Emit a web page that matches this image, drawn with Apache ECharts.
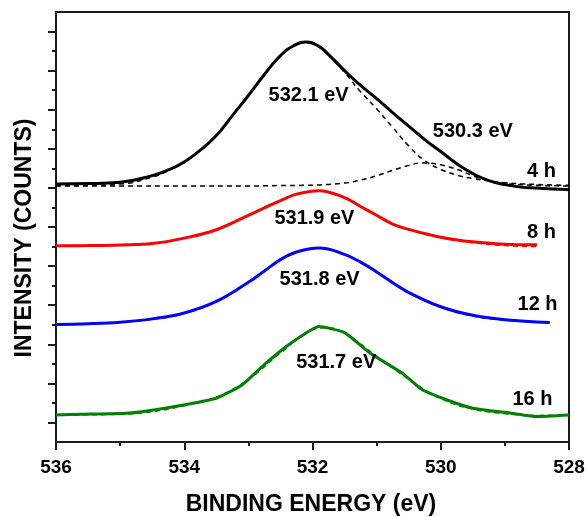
<!DOCTYPE html>
<html><head><meta charset="utf-8">
<script src="https://cdn.jsdelivr.net/npm/echarts@6/dist/echarts.min.js"></script>
<style>html,body{margin:0;padding:0;background:#fff}#c{width:588px;height:517px}</style>
</head><body><div id="c"></div>
<script>
// ---- data (binding energy in eV, intensity in arbitrary offset units) ----
const E4  = [536, 535.5, 535, 534.5, 534.25, 534, 533.75, 533.5, 533.25, 533, 532.75, 532.5, 532.3, 532.1, 531.9, 531.75, 531.5, 531.25, 531, 530.75, 530.5, 530.25, 530, 529.75, 529.5, 529.25, 529, 528.75, 528.5, 528.25, 528];
const I4  = [13.20, 13.22, 13.29, 13.63, 13.92, 14.33, 14.93, 15.68, 16.70, 17.73, 18.80, 19.77, 20.26, 20.46, 20.24, 19.82, 19.00, 18.24, 17.57, 16.85, 16.16, 15.47, 14.86, 14.24, 13.73, 13.37, 13.17, 13.04, 12.99, 12.94, 12.91];
const I4c1 = [13.12, 13.13, 13.20, 13.55, 13.88, 14.33, 14.93, 15.68, 16.70, 17.73, 18.80, 19.77, 20.26, 20.46, 20.24, 19.80, 18.90, 17.92, 17.05, 16.10, 15.15, 14.40, 13.95, 13.66, 13.48, 13.36, 13.27, 13.21, 13.18, 13.15, 13.13];
const E4c2 = [536, 535, 534, 533, 532.5, 532, 531.75, 531.5, 531.25, 531, 530.75, 530.5, 530.3, 530, 529.75, 529.5, 529.25, 529, 528.5, 528];
const I4c2 = [13.10, 13.10, 13.10, 13.10, 13.12, 13.14, 13.18, 13.25, 13.40, 13.62, 13.90, 14.15, 14.28, 14.18, 13.95, 13.62, 13.36, 13.22, 13.13, 13.10];

const E8  = [536, 535.5, 535, 534.5, 534, 533.5, 533, 532.75, 532.5, 532.25, 531.9, 531.5, 531.25, 531, 530.75, 530.5, 530, 529.5, 529, 528.5];
const I8  = [10.04, 10.05, 10.08, 10.15, 10.43, 10.86, 11.60, 11.98, 12.35, 12.68, 12.86, 12.50, 12.05, 11.60, 11.15, 10.88, 10.48, 10.24, 10.12, 10.09];
const I8f = [10.04, 10.05, 10.08, 10.15, 10.43, 10.86, 11.60, 11.98, 12.35, 12.68, 12.86, 12.50, 12.05, 11.60, 11.15, 10.86, 10.45, 10.20, 10.05, 10.00];

const E12  = [536, 535.5, 535, 534.5, 534, 533.5, 533, 532.75, 532.5, 532.25, 531.9, 531.5, 531.25, 531, 530.75, 530.5, 530, 529.5, 529, 528.3];
const I12  = [6.01, 6.05, 6.13, 6.30, 6.60, 7.19, 8.17, 8.75, 9.33, 9.72, 9.92, 9.60, 9.20, 8.70, 8.15, 7.65, 6.92, 6.48, 6.26, 6.11];
const I12f = [6.01, 6.05, 6.13, 6.28, 6.58, 7.19, 8.17, 8.75, 9.33, 9.72, 9.92, 9.60, 9.20, 8.70, 8.15, 7.62, 6.90, 6.45, 6.24, 6.10];

const E16  = [536, 535.6, 534.9, 534.3, 533.5, 533.1, 532.7, 532.3, 531.9, 531.5, 531.1, 530.6, 530.3, 529.9, 529.5, 528.9, 528.5, 528];
const I16  = [1.38, 1.42, 1.47, 1.73, 2.24, 2.92, 4.11, 5.14, 5.91, 5.60, 4.54, 3.52, 2.70, 2.15, 1.73, 1.47, 1.30, 1.38];
const E16f = [536, 535, 534.5, 534, 533.5, 533, 532.5, 532, 531.75, 531.5, 531, 530.5, 530, 529.5, 529, 528.5, 528];
const I16f = [1.38, 1.42, 1.55, 1.86, 2.30, 3.20, 4.55, 5.75, 5.85, 5.58, 4.40, 3.22, 2.22, 1.68, 1.45, 1.36, 1.40];

const annoText = ['532.1 eV', '530.3 eV', '4 h', '531.9 eV', '8 h', '531.8 eV', '12 h', '531.7 eV', '16 h'];
const annoE    = [532.06, 529.50, 528.43, 531.97, 528.43, 531.89, 528.49, 531.63, 528.57];
const annoI    = [17.73, 15.90, 13.85, 11.46, 10.72, 8.34, 7.02, 4.06, 2.20];

const xTickInterval = 2;
const yMajorTicks = [1, 3, 5, 7, 9, 11, 13, 15, 17, 19, 21];
const yMinorTicks = [2, 4, 6, 8, 10, 12, 14, 16, 18, 20];

// ---- build ----
const zip = (xs, ys) => xs.map((x, i) => [x, ys[i]]);
const FONT = 'Liberation Sans, Arial, sans-serif';
const AX = '#1a1a1a';

function line(data, color, width, dashed, smooth, z) {
  return {
    type: 'line', data, symbol: 'none', smooth: smooth, z: z,
    lineStyle: { color, width, type: dashed ? [5, 4] : 'solid' },
    silent: true, animation: false
  };
}

const chart = echarts.init(document.getElementById('c'), null, { renderer: 'canvas' });
chart.setOption({
  animation: false,
  backgroundColor: '#fff',
  grid: { left: 56, right: 19, top: 12, bottom: 75, show: true, borderColor: AX, borderWidth: 2, backgroundColor: 'transparent' },
  xAxis: {
    type: 'value', inverse: true, min: 528, max: 536, interval: xTickInterval,
    axisLine: { show: true, lineStyle: { color: AX, width: 2 } },
    axisTick: { show: true, inside: false, length: 8, lineStyle: { color: AX, width: 2 } },
    minorTick: { show: true, splitNumber: 2, length: 4, lineStyle: { color: AX, width: 2 } },
    splitLine: { show: false },
    axisLabel: { fontFamily: FONT, fontWeight: 'bold', fontSize: 19, color: '#000', margin: 16 }
  },
  yAxis: [{
    type: 'value', min: 0, max: 22, position: 'left',
    axisLine: { show: true, lineStyle: { color: AX, width: 2 } },
    axisTick: { show: true, inside: false, length: 8, customValues: yMajorTicks, lineStyle: { color: AX, width: 2 } },
    axisLabel: { show: false },
    splitLine: { show: false }
  }, {
    type: 'value', min: 0, max: 22, position: 'left',
    axisLine: { show: false },
    axisTick: { show: true, inside: false, length: 4, customValues: yMinorTicks, lineStyle: { color: AX, width: 2 } },
    axisLabel: { show: false },
    splitLine: { show: false }
  }],
  graphic: [
    { type: 'text', x: 311, y: 505, z: 100,
      style: { text: 'BINDING ENERGY (eV)', font: 'bold 23px ' + FONT, fill: '#000', align: 'center', verticalAlign: 'middle' } },
    { type: 'text', x: 25, y: 238, rotation: Math.PI / 2, z: 100,
      style: { text: 'INTENSITY (COUNTS)', font: 'bold 23px ' + FONT, fill: '#000', align: 'center', verticalAlign: 'middle' } }
  ],
  series: [
    line(zip(E4, I4c1), '#000', 1.5, true, 0.5, 1),
    line(zip(E4c2, I4c2), '#000', 1.5, true, 0.4, 1),
    line(zip(E4, I4), '#000', 3, false, 0.5, 2),
    line(zip(E8, I8), '#ff0000', 3, false, 0.4, 2),
    line(zip(E8, I8f), '#ff0000', 1.5, true, 0.4, 3),
    line(zip(E12, I12), '#0000ff', 3, false, 0.4, 2),
    line(zip(E12, I12f), '#0000ff', 1.5, true, 0.4, 3),
    line(zip(E16, I16), '#008000', 3, false, 0.15, 2),
    line(zip(E16f, I16f), '#008000', 1.5, true, 0.4, 3),
    {
      type: 'scatter', symbolSize: 0, silent: true, z: 10,
      itemStyle: { color: '#000', opacity: 1 },
      data: annoText.map((t, i) => ({ name: t, value: [annoE[i], annoI[i]] })),
      label: { show: true, position: 'inside', formatter: p => p.name,
        fontFamily: FONT, fontWeight: 'bold', fontSize: 20, color: '#000',
        textBorderWidth: 0, textBorderColor: 'transparent', opacity: 1,
        align: 'center', verticalAlign: 'middle' }
    }
  ]
});
</script></body></html>
